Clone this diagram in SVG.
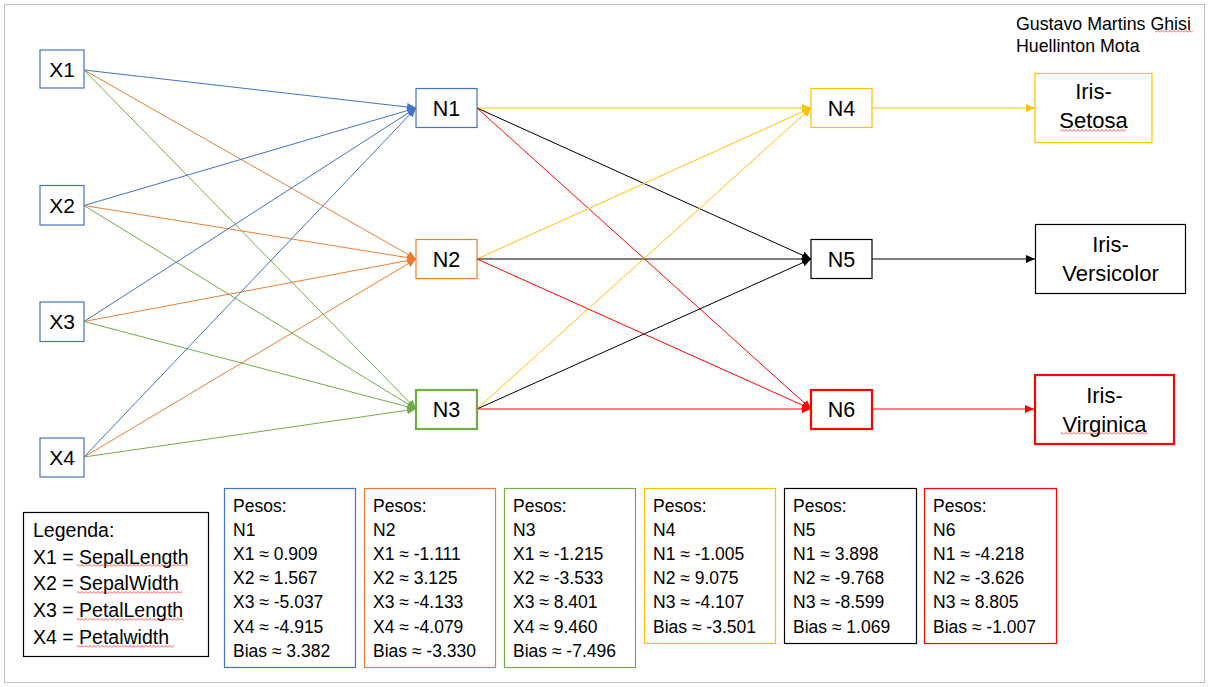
<svg xmlns="http://www.w3.org/2000/svg" width="1211" height="687" viewBox="0 0 1211 687">
<style>
  text { font-family: "Liberation Sans", Arial, sans-serif; fill: #000; }
  .node { fill: #fff; stroke-width: 1.2; }
  .thick { stroke-width: 2.2; }
  .lbl { font-size: 21.5px; text-anchor: middle; }
  .xlbl { font-size: 21px; text-anchor: middle; }
  .out { font-size: 22px; text-anchor: middle; }
  .w { font-size: 17.5px; }
  .leg { font-size: 19.5px; }
  .auth { font-size: 17.8px; }
  .blue { stroke: #4472C4; }
  .orange { stroke: #ED7D31; }
  .green { stroke: #70AD47; }
  .yellow { stroke: #FFC000; }
  .black { stroke: #000; }
  .red { stroke: #FF0000; }
  .conn line { stroke-width: 1; fill: none; }
</style>
<defs>
  <marker id="mb" markerUnits="userSpaceOnUse" markerWidth="9" markerHeight="8" refX="9" refY="4" orient="auto"><path d="M0,0 L9,4 L0,8 z" fill="#4472C4"/></marker>
  <marker id="mo" markerUnits="userSpaceOnUse" markerWidth="9" markerHeight="8" refX="9" refY="4" orient="auto"><path d="M0,0 L9,4 L0,8 z" fill="#ED7D31"/></marker>
  <marker id="mg" markerUnits="userSpaceOnUse" markerWidth="9" markerHeight="8" refX="9" refY="4" orient="auto"><path d="M0,0 L9,4 L0,8 z" fill="#70AD47"/></marker>
  <marker id="my" markerUnits="userSpaceOnUse" markerWidth="9" markerHeight="8" refX="9" refY="4" orient="auto"><path d="M0,0 L9,4 L0,8 z" fill="#FFC000"/></marker>
  <marker id="mk" markerUnits="userSpaceOnUse" markerWidth="9" markerHeight="8" refX="9" refY="4" orient="auto"><path d="M0,0 L9,4 L0,8 z" fill="#000"/></marker>
  <marker id="mr" markerUnits="userSpaceOnUse" markerWidth="9" markerHeight="8" refX="9" refY="4" orient="auto"><path d="M0,0 L9,4 L0,8 z" fill="#FF0000"/></marker>
  <pattern id="sq" patternUnits="userSpaceOnUse" width="4" height="3"><path d="M0,2.5 L2,0.5 L4,2.5" fill="none" stroke="#FF0000" stroke-width="0.7"/></pattern>
</defs>
<rect x="0" y="0" width="1211" height="687" fill="#fff"/>
<rect x="4.5" y="4.5" width="1200" height="678" fill="none" stroke="#c0c0c0" stroke-width="1"/>

<g id="connectors" class="conn">
  <line class="blue" x1="84" y1="70" x2="416" y2="108" marker-end="url(#mb)"/>
  <line class="orange" x1="84" y1="70" x2="416" y2="259" marker-end="url(#mo)"/>
  <line class="green" x1="84" y1="70" x2="416" y2="409" marker-end="url(#mg)"/>
  <line class="blue" x1="84" y1="205.5" x2="416" y2="108" marker-end="url(#mb)"/>
  <line class="orange" x1="84" y1="205.5" x2="416" y2="259" marker-end="url(#mo)"/>
  <line class="green" x1="84" y1="205.5" x2="416" y2="409" marker-end="url(#mg)"/>
  <line class="blue" x1="84" y1="321.5" x2="416" y2="108" marker-end="url(#mb)"/>
  <line class="orange" x1="84" y1="321.5" x2="416" y2="259" marker-end="url(#mo)"/>
  <line class="green" x1="84" y1="321.5" x2="416" y2="409" marker-end="url(#mg)"/>
  <line class="blue" x1="84" y1="457" x2="416" y2="108" marker-end="url(#mb)"/>
  <line class="orange" x1="84" y1="457" x2="416" y2="259" marker-end="url(#mo)"/>
  <line class="green" x1="84" y1="457" x2="416" y2="409" marker-end="url(#mg)"/>

  <line class="yellow" x1="477" y1="108" x2="811" y2="108" marker-end="url(#my)"/>
  <line class="black" x1="477" y1="108" x2="811" y2="259" marker-end="url(#mk)"/>
  <line class="red" x1="477" y1="108" x2="811" y2="409" marker-end="url(#mr)"/>
  <line class="yellow" x1="477" y1="259" x2="811" y2="108" marker-end="url(#my)"/>
  <line class="black" x1="477" y1="259" x2="811" y2="259" marker-end="url(#mk)"/>
  <line class="red" x1="477" y1="259" x2="811" y2="409" marker-end="url(#mr)"/>
  <line class="yellow" x1="477" y1="409" x2="811" y2="108" marker-end="url(#my)"/>
  <line class="black" x1="477" y1="409" x2="811" y2="259" marker-end="url(#mk)"/>
  <line class="red" x1="477" y1="409" x2="811" y2="409" marker-end="url(#mr)"/>

  <line class="yellow" x1="872" y1="108" x2="1035" y2="108" marker-end="url(#my)"/>
  <line class="black" x1="872" y1="259" x2="1035" y2="259" marker-end="url(#mk)"/>
  <line class="red" x1="872" y1="409" x2="1034" y2="409" marker-end="url(#mr)"/>
</g>

<g id="X1"><rect class="node blue" x="40" y="50" width="44" height="38"/><text class="xlbl" x="62" y="77">X1</text></g>
<g id="X2"><rect class="node blue" x="40" y="185.5" width="44" height="39.5"/><text class="xlbl" x="62" y="213">X2</text></g>
<g id="X3"><rect class="node blue" x="40" y="302" width="44" height="39.5"/><text class="xlbl" x="62" y="329">X3</text></g>
<g id="X4"><rect class="node blue" x="40" y="438" width="44" height="39"/><text class="xlbl" x="62" y="465">X4</text></g>

<g id="N1"><rect class="node blue" x="416" y="88.5" width="61" height="39"/><text class="lbl" x="446.5" y="115.5">N1</text></g>
<g id="N2"><rect class="node orange" x="416" y="239.5" width="61" height="39"/><text class="lbl" x="446.5" y="266.5">N2</text></g>
<g id="N3"><rect class="node green thick" x="416" y="390" width="61" height="39"/><text class="lbl" x="446.5" y="417">N3</text></g>

<g id="N4"><rect class="node yellow" x="811" y="88.5" width="61" height="39"/><text class="lbl" x="841.5" y="115.5">N4</text></g>
<g id="N5"><rect class="node black" x="811" y="239.5" width="61" height="39"/><text class="lbl" x="841.5" y="266.5">N5</text></g>
<g id="N6"><rect class="node red thick" x="811" y="390" width="61" height="39"/><text class="lbl" x="841.5" y="417">N6</text></g>

<g id="IrisSetosa"><rect class="node yellow" x="1035" y="73.5" width="117" height="69"/><text class="out" x="1093.5" y="99">Iris-</text><text class="out" x="1093.5" y="128">Setosa</text><rect x="1060" y="129" width="66" height="3" fill="url(#sq)"/></g>
<g id="IrisVersicolor"><rect class="node black" x="1035.5" y="224.5" width="150" height="69"/><text class="out" x="1110.5" y="251.5">Iris-</text><text class="out" x="1110.5" y="281">Versicolor</text></g>
<g id="IrisVirginica"><rect class="node red thick" x="1035" y="375" width="139" height="69"/><text class="out" x="1104.5" y="403">Iris-</text><text class="out" x="1104.5" y="432">Virginica</text><rect x="1061" y="432" width="87" height="3" fill="url(#sq)"/></g>

<g id="authors">
  <text class="auth" x="1016" y="30">Gustavo Martins Ghisi</text>
  <text class="auth" x="1016" y="52">Huellinton Mota</text>
  <rect x="1155" y="30" width="38" height="3" fill="url(#sq)"/>
</g>

<g id="legend">
  <rect x="23.5" y="512.5" width="185" height="144" fill="#fff" stroke="#000" stroke-width="1.2"/>
  <text class="leg" x="33" y="537">Legenda:</text>
  <text class="leg" x="33" y="563.5">X1 = SepalLength</text>
  <text class="leg" x="33" y="590">X2 = SepalWidth</text>
  <text class="leg" x="33" y="617">X3 = PetalLength</text>
  <text class="leg" x="33" y="643.5">X4 = Petalwidth</text>
  <rect x="77" y="564" width="111" height="3" fill="url(#sq)"/>
  <rect x="77" y="591" width="105" height="3" fill="url(#sq)"/>
  <rect x="77" y="618" width="107" height="3" fill="url(#sq)"/>
  <rect x="77" y="645" width="97" height="3" fill="url(#sq)"/>
</g>

<g id="W1">
  <rect class="node blue" x="224.5" y="488.5" width="131" height="179"/>
  <text class="w"><tspan x="233" y="512">Pesos:</tspan><tspan x="233" dy="24.1">N1</tspan><tspan x="233" dy="24.1">X1 ≈ 0.909</tspan><tspan x="233" dy="24.1">X2 ≈ 1.567</tspan><tspan x="233" dy="24.1">X3 ≈ -5.037</tspan><tspan x="233" dy="24.1">X4 ≈ -4.915</tspan><tspan x="233" dy="24.1">Bias ≈ 3.382</tspan></text>
</g>
<g id="W2">
  <rect class="node orange" x="364.5" y="488.5" width="131" height="179"/>
  <text class="w"><tspan x="373" y="512">Pesos:</tspan><tspan x="373" dy="24.1">N2</tspan><tspan x="373" dy="24.1">X1 ≈ -1.111</tspan><tspan x="373" dy="24.1">X2 ≈ 3.125</tspan><tspan x="373" dy="24.1">X3 ≈ -4.133</tspan><tspan x="373" dy="24.1">X4 ≈ -4.079</tspan><tspan x="373" dy="24.1">Bias ≈ -3.330</tspan></text>
</g>
<g id="W3">
  <rect class="node green" x="504.5" y="488.5" width="131" height="179"/>
  <text class="w"><tspan x="513" y="512">Pesos:</tspan><tspan x="513" dy="24.1">N3</tspan><tspan x="513" dy="24.1">X1 ≈ -1.215</tspan><tspan x="513" dy="24.1">X2 ≈ -3.533</tspan><tspan x="513" dy="24.1">X3 ≈ 8.401</tspan><tspan x="513" dy="24.1">X4 ≈ 9.460</tspan><tspan x="513" dy="24.1">Bias ≈ -7.496</tspan></text>
</g>
<g id="W4">
  <rect class="node yellow" x="644.5" y="488.5" width="131" height="155"/>
  <text class="w"><tspan x="653" y="512">Pesos:</tspan><tspan x="653" dy="24.1">N4</tspan><tspan x="653" dy="24.1">N1 ≈ -1.005</tspan><tspan x="653" dy="24.1">N2 ≈ 9.075</tspan><tspan x="653" dy="24.1">N3 ≈ -4.107</tspan><tspan x="653" dy="24.1">Bias ≈ -3.501</tspan></text>
</g>
<g id="W5">
  <rect class="node black" x="784.5" y="488.5" width="132" height="155"/>
  <text class="w"><tspan x="793" y="512">Pesos:</tspan><tspan x="793" dy="24.1">N5</tspan><tspan x="793" dy="24.1">N1 ≈ 3.898</tspan><tspan x="793" dy="24.1">N2 ≈ -9.768</tspan><tspan x="793" dy="24.1">N3 ≈ -8.599</tspan><tspan x="793" dy="24.1">Bias ≈ 1.069</tspan></text>
</g>
<g id="W6">
  <rect class="node red" x="924.5" y="488.5" width="132" height="155"/>
  <text class="w"><tspan x="933" y="512">Pesos:</tspan><tspan x="933" dy="24.1">N6</tspan><tspan x="933" dy="24.1">N1 ≈ -4.218</tspan><tspan x="933" dy="24.1">N2 ≈ -3.626</tspan><tspan x="933" dy="24.1">N3 ≈ 8.805</tspan><tspan x="933" dy="24.1">Bias ≈ -1.007</tspan></text>
</g>
</svg>
